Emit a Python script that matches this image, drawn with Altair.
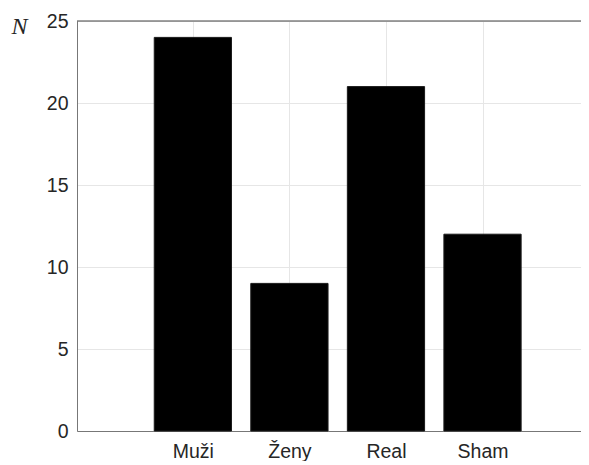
import altair as alt
import pandas as pd

categories = ["Muži", "Ženy", "Real", "Sham"]
counts = [24, 9, 21, 12]
positions = [1, 2, 3, 4]

df = pd.DataFrame({"cat": categories, "n": counts, "pos": positions})

label_expr = "datum.value == 1 ? 'Muži' : datum.value == 2 ? 'Ženy' : datum.value == 3 ? 'Real' : datum.value == 4 ? 'Sham' : ''"

xscale = alt.Scale(domain=[-0.2, 5.02], nice=False, zero=False)
yscale = alt.Scale(domain=[0, 25], nice=False)

bars = alt.Chart(df).transform_calculate(
    x0="datum.pos - 0.4", x1="datum.pos + 0.4"
).mark_bar(color="black", stroke="#1a1a1a", strokeWidth=1).encode(
    x=alt.X("x0:Q", scale=xscale, axis=alt.Axis(
        values=positions, labelExpr=label_expr, title=None, grid=True,
        gridColor="#e6e6e6", tickSize=0, labelPadding=11, labelFontSize=19.5,
        labelFont="Liberation Sans", labelColor="#262626", domainColor="#777777",
        labelFlush=False)),
    x2="x1:Q",
    y=alt.Y("n:Q", scale=yscale, axis=alt.Axis(
        values=[0, 5, 10, 15, 20, 25], title="N", titleAngle=0, titleFont="Liberation Serif",
        titleFontStyle="italic", titleFontWeight="normal", titleFontSize=24,
        titleColor="#262626", titleAlign="left", titleBaseline="alphabetic",
        titleX=-66, titleY=12, grid=True, gridColor="#e6e6e6", tickSize=0,
        labelPadding=9, labelFontSize=19.5, labelFont="Liberation Sans",
        labelColor="#262626", domainColor="#777777")),
    y2=alt.datum(0),
)

top = alt.Chart(pd.DataFrame({"v": [25]})).mark_rule(color="#444444", strokeWidth=1.2).encode(
    y=alt.Y("v:Q", scale=yscale)
)

chart = alt.layer(bars, top).properties(
    width=504, height=410,
    padding={"left": 69, "top": 13, "right": 0, "bottom": 30},
    autosize=alt.AutoSizeParams(type="none"),
).configure_view(stroke=None).configure(background="white")

chart.save("out.html", embed_options={"renderer": "svg", "actions": False})
